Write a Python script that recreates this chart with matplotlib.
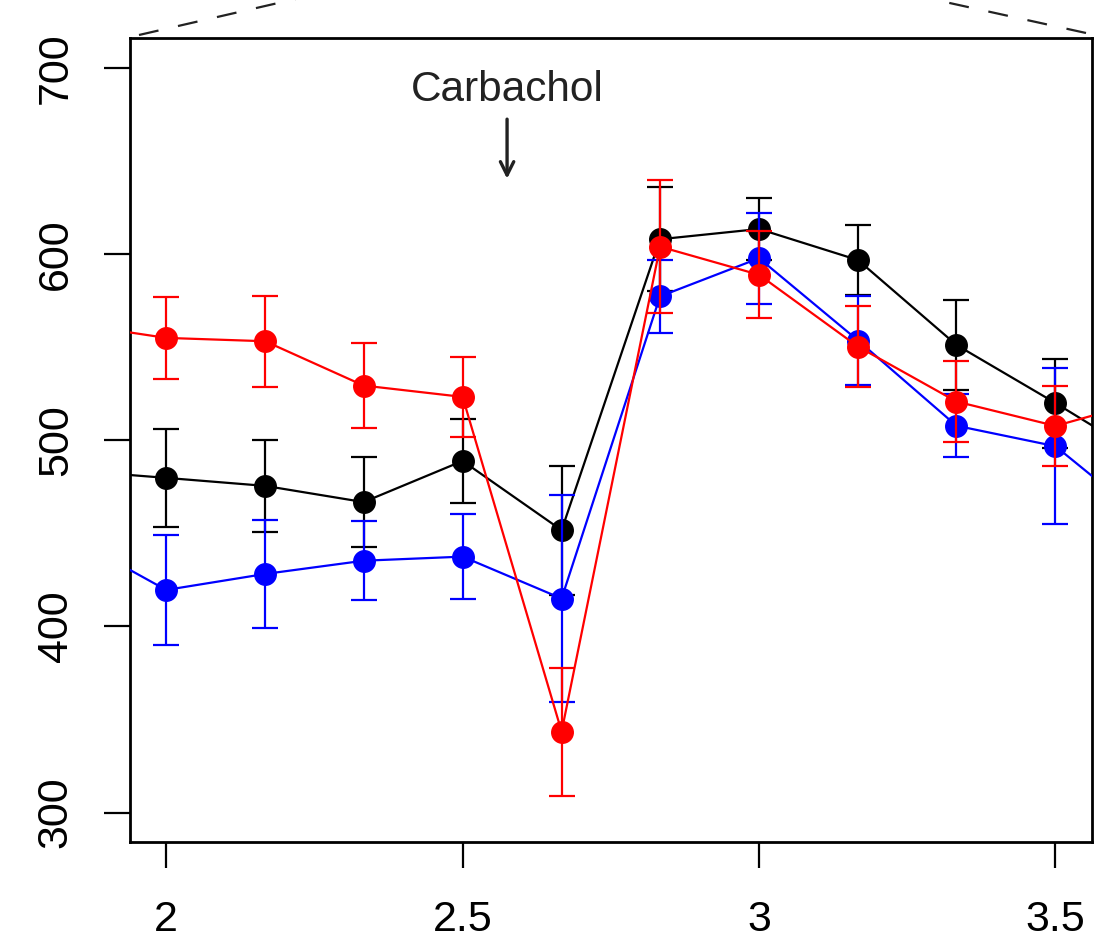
import matplotlib
matplotlib.use("Agg")
import matplotlib.pyplot as plt
from matplotlib.lines import Line2D

plt.rcParams['font.family'] = ['Liberation Sans', 'DejaVu Sans']

# tiempo (h) - incluye un punto fuera de cada borde
t = [1.833, 2.0, 2.167, 2.333, 2.5, 2.667, 2.833, 3.0, 3.167, 3.333, 3.5, 3.667]

# medias y error estándar por grupo
black_mean = [484, 479.8, 475.5, 466.8, 488.9, 451.7, 608.0, 613.5, 596.8, 551.2, 520.0, 487.4]
black_sem = [25, 26.4, 24.7, 24.0, 22.7, 34.7, 27.8, 16.6, 18.6, 24.0, 23.9, 25]

blue_mean = [449, 419.6, 428.2, 435.3, 437.5, 415.0, 577.3, 597.8, 553.6, 507.8, 496.8, 453.5]
blue_sem = [25, 29.5, 28.8, 21.1, 22.8, 55.6, 19.7, 24.4, 23.7, 16.8, 41.8, 25]

red_mean = [563, 555.0, 553.2, 529.4, 523.3, 343.5, 604.0, 588.9, 550.3, 520.8, 507.7, 522.6]
red_sem = [22, 21.9, 24.4, 22.8, 21.7, 34.4, 35.6, 23.3, 21.6, 21.9, 21.4, 22]

series = [(black_mean, black_sem, "black"),
          (blue_mean, blue_sem, "#0000ff"),
          (red_mean, red_sem, "#ff0000")]

fig = plt.figure(figsize=(11, 9.4), dpi=100)
ax = fig.add_axes([130 / 1100, 1 - 842 / 940, 962 / 1100, 804 / 940])

for i, (m, s, c) in enumerate(series):
    ax.errorbar(t, m, yerr=s, fmt='o-', color=c, ecolor=c, lw=1.6, elinewidth=1.6,
                capsize=9.5, capthick=1.6, markersize=15.5, zorder=3 + i)

ax.set_xlim(1.939, 3.5616)
ax.set_ylim(284.2, 716.1)
ax.set_xticks([2, 2.5, 3, 3.5])
ax.set_xticklabels(["2", "2.5", "3", "3.5"])
ax.set_yticks([300, 400, 500, 600, 700])
ax.set_yticklabels(["300", "400", "500", "600", "700"], rotation=90, va='center')
ax.tick_params(axis='both', length=19, width=1.6, labelsize=31, direction='out')
ax.tick_params(axis='x', pad=23)
ax.tick_params(axis='y', pad=20)
for sp in ax.spines.values():
    sp.set_linewidth(2)

# flecha de carbacol
ax.text(2.575, 682, "Carbachol", ha='center', va='baseline', fontsize=30.5, color='#222222')
ax.annotate("", xy=(2.575, 640.5), xytext=(2.575, 672.5),
            arrowprops=dict(arrowstyle='->', lw=2.4, color='#222222',
                            mutation_scale=24, shrinkA=0, shrinkB=0))

# lineas discontinuas del zoom
W, H = 1100, 940
fig.add_artist(Line2D([139 / W, 300 / W], [1 - 35 / H, 1 - (35 - 161 * 0.23) / H],
                      color='#222222', lw=1.6, ls=(0, (9, 9))))
fig.add_artist(Line2D([1086 / W, 925 / W], [1 - 33 / H, 1 - (33 - 161 * 0.22) / H],
                      color='#222222', lw=1.6, ls=(0, (9, 9))))

fig.savefig("out.png", dpi=100)
